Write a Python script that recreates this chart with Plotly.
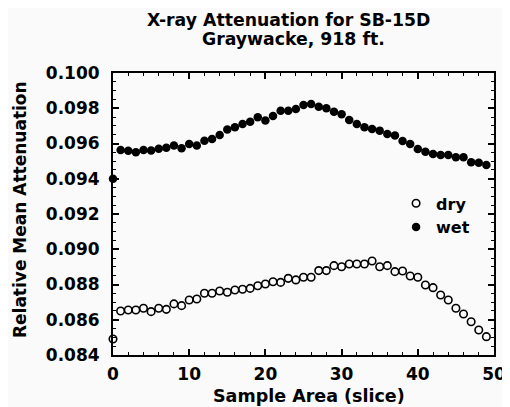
import plotly.graph_objects as go

slice_idx = list(range(50))

wet = [0.0940, 0.09563, 0.09559, 0.0955, 0.09563, 0.0956, 0.0957, 0.09576, 0.09588, 0.09573,
       0.09597, 0.09588, 0.09616, 0.09626, 0.09648, 0.0968, 0.09692, 0.0971, 0.09724, 0.09749,
       0.0973, 0.09756, 0.09786, 0.09786, 0.09796, 0.09818, 0.09824, 0.09809, 0.0980, 0.0978,
       0.09766, 0.09733, 0.0971, 0.09692, 0.09682, 0.09673, 0.09654, 0.09645, 0.09614, 0.09597,
       0.09569, 0.09553, 0.0954, 0.09535, 0.09535, 0.09522, 0.09522, 0.09493, 0.09491, 0.09478]

dry = [0.08491, 0.0865, 0.08655, 0.08655, 0.08665, 0.08646, 0.08665, 0.08659, 0.0869, 0.0868,
       0.08712, 0.08718, 0.0875, 0.0875, 0.08763, 0.08756, 0.08769, 0.08773, 0.08778, 0.08793,
       0.08803, 0.08816, 0.08812, 0.08835, 0.08826, 0.08841, 0.08841, 0.08879, 0.08879, 0.08907,
       0.08901, 0.08916, 0.08916, 0.08916, 0.08933, 0.08901, 0.08907, 0.08873, 0.08877, 0.08848,
       0.08841, 0.08797, 0.08782, 0.0874, 0.08712, 0.08665, 0.08633, 0.08589, 0.08542, 0.08504]

x_ticks = [0, 10, 20, 30, 40, 50]
x_ticktext = ["0", "10", "20", "30", "40", "50"]
y_ticks = [0.084, 0.086, 0.088, 0.090, 0.092, 0.094, 0.096, 0.098, 0.100]
y_ticktext = ["0.084", "0.086", "0.088", "0.090", "0.092", "0.094", "0.096", "0.098", "0.100"]

title_lines = ["X-ray Attenuation for SB-15D", "Graywacke, 918 ft."]
x_title = "Sample Area (slice)"
y_title = "Relative Mean Attenuation"

FONT = "DejaVu Sans"
BG = "#fafafa"

fig = go.Figure()
fig.add_trace(go.Scatter(
    x=slice_idx, y=dry, mode="markers", name="dry",
    marker=dict(symbol="circle-open", size=7.5, color="black", line=dict(width=1.6)),
    cliponaxis=False,
))
fig.add_trace(go.Scatter(
    x=slice_idx, y=wet, mode="markers", name="wet",
    marker=dict(symbol="circle", size=8.5, color="black"),
    cliponaxis=False,
))

axis_common = dict(
    showline=True, linecolor="black", linewidth=2, mirror="allticks",
    ticks="inside", ticklen=6, tickwidth=1.5, tickcolor="black",
    showgrid=False, zeroline=False,
    tickfont=dict(family=FONT, size=17, color="black", weight="bold"),
)

fig.update_xaxes(
    range=[0, 50], tickvals=x_ticks, ticktext=x_ticktext,
    minor=dict(dtick=2, ticks="inside", ticklen=3, tickwidth=1, tickcolor="black"),
    ticklabelstandoff=3,
    **axis_common,
)
fig.update_yaxes(
    range=[0.084, 0.100], tickvals=y_ticks, ticktext=y_ticktext,
    minor=dict(dtick=0.0005, ticks="inside", ticklen=3, tickwidth=1, tickcolor="black"),
    ticklabelstandoff=8,
    **axis_common,
)

title_font = dict(family=FONT, size=17.3, color="black", weight="bold")
fig.add_annotation(
    text=title_lines[0], xref="paper", yref="paper",
    x=0.461, y=1.0, yshift=53, xanchor="center", yanchor="middle", showarrow=False,
    font=title_font,
)
fig.add_annotation(
    text=title_lines[1], xref="paper", yref="paper",
    x=0.473, y=1.0, yshift=34, xanchor="center", yanchor="middle", showarrow=False,
    font=title_font,
)
fig.add_annotation(
    text=x_title, xref="paper", yref="paper", x=0.514, y=0, yshift=-41,
    xanchor="center", yanchor="middle", showarrow=False,
    font=dict(family=FONT, size=17.5, color="black", weight="bold"),
)
fig.add_annotation(
    text=y_title, xref="paper", yref="paper", x=0, xshift=-93, y=0.514,
    xanchor="center", yanchor="middle", textangle=-90, showarrow=False,
    font=dict(family=FONT, size=17, color="black", weight="bold"),
)

fig.update_layout(
    width=510, height=407,
    margin=dict(l=105, r=20, t=65, b=60),
    paper_bgcolor=BG, plot_bgcolor=BG,
    showlegend=True,
    legend=dict(x=0.743, y=0.598, xanchor="left", yanchor="top", bgcolor="rgba(0,0,0,0)",
                font=dict(family=FONT, size=16, color="black", weight="bold"),
                tracegroupgap=0, itemwidth=30),
)

fig.write_html("out.html")
